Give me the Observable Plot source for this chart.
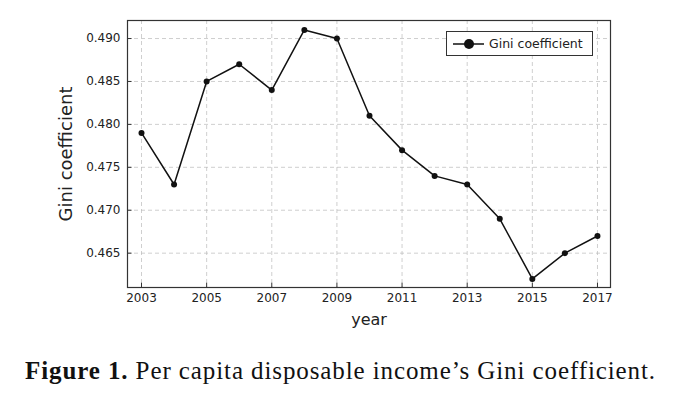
<!DOCTYPE html>
<html>
<head>
<meta charset="utf-8">
<script src="https://cdn.jsdelivr.net/npm/d3@7"></script>
<script src="https://cdn.jsdelivr.net/npm/@observablehq/plot@0.6"></script>
<style>
  html, body { margin: 0; padding: 0; background: #fff; }
  #wrap { position: relative; width: 681px; }
  #legend { position: absolute; left: 446px; top: 31px; width: 147px; height: 25px; border: 1px solid #333; background: #fff; box-sizing: border-box; font-family: "DejaVu Sans", sans-serif; font-size: 12.5px; color: #222; }
  #caption { font-family: "Liberation Serif", serif; font-size: 25px; letter-spacing: 0.9px; color: #111; text-align: center; margin-top: 22px; width: 681px; }
</style>
</head>
<body>
<div id="wrap">
  <div id="chart"></div>
  <div id="legend">
    <svg width="40" height="23" style="position:absolute;left:4px;top:0">
      <line x1="2" y1="12" x2="33" y2="12" stroke="#111" stroke-width="1.5"/>
      <circle cx="18" cy="12" r="5" fill="#111"/>
    </svg>
    <span style="position:absolute;left:42px;top:4px;">Gini coefficient</span>
  </div>
  <div id="caption"><b>Figure 1.</b> Per capita disposable income’s Gini coefficient.</div>
</div>
<script>
const years = [2003, 2004, 2005, 2006, 2007, 2008, 2009, 2010, 2011, 2012, 2013, 2014, 2015, 2016, 2017];
const gini = [0.479, 0.473, 0.485, 0.487, 0.484, 0.491, 0.490, 0.481, 0.477, 0.474, 0.473, 0.469, 0.462, 0.465, 0.467];
const xTicks = [2003, 2005, 2007, 2009, 2011, 2013, 2015, 2017];
const yTicks = [0.465, 0.470, 0.475, 0.480, 0.485, 0.490];

const data = years.map((y, i) => ({year: y, gini: gini[i]}));
const xDom = [2002.57, 2017.4];
const yDom = [0.4610, 0.4921];

const chart = Plot.plot({
  width: 681,
  height: 335,
  marginLeft: 127,
  marginRight: 71,
  marginTop: 20,
  marginBottom: 48,
  style: {fontFamily: "DejaVu Sans, sans-serif", fontSize: "12px", color: "#222", background: "#fff"},
  x: {domain: xDom},
  y: {domain: yDom},
  marks: [
    Plot.gridX(xTicks, {stroke: "#bbb", strokeOpacity: 0.7, strokeDasharray: "4,3"}),
    Plot.gridY(yTicks, {stroke: "#bbb", strokeOpacity: 0.7, strokeDasharray: "4,3"}),
    Plot.ruleX(xTicks, {x: d => d, y1: yDom[0], y2: yDom[0] + 0.0005, stroke: "#333"}),
    Plot.ruleY(yTicks, {y: d => d, x1: xDom[0], x2: xDom[0] + 0.14, stroke: "#333"}),
    Plot.axisX(xTicks, {tickSize: 0, tickPadding: 6, tickFormat: d => String(d), label: null, fontSize: 12}),
    Plot.axisY(yTicks, {tickSize: 0, tickPadding: 7, tickFormat: d3.format(".3f"), label: null, fontSize: 12}),
    Plot.text(["year"], {frameAnchor: "bottom", dy: 37, fontSize: 16, fill: "#222"}),
    Plot.text(["Gini coefficient"], {frameAnchor: "left", textAnchor: "middle", dx: -61, rotate: -90, fontSize: 18, fill: "#222"}),
    Plot.line(data, {x: "year", y: "gini", stroke: "#111", strokeWidth: 1.5}),
    Plot.dot(data, {x: "year", y: "gini", r: 3, fill: "#111"}),
    Plot.frame({stroke: "#333", strokeWidth: 1.2})
  ]
});
document.getElementById("chart").appendChild(chart);
</script>
</body>
</html>
